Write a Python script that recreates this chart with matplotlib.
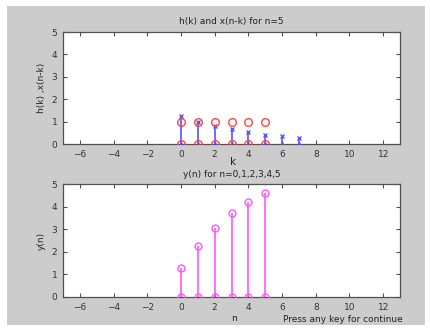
import matplotlib.pyplot as plt
from matplotlib.patches import Rectangle

# data
k_h = [0, 1, 2, 3, 4, 5, 6, 7]
h_vals = [1.25, 1.0, 0.82, 0.65, 0.55, 0.42, 0.35, 0.25]
k_x = [0, 1, 2, 3, 4, 5]
x_vals = [1, 1, 1, 1, 1, 1]
n_vals = [0, 1, 2, 3, 4, 5]
y_vals = [1.27, 2.27, 3.05, 3.72, 4.22, 4.62]
xticks = [-6, -4, -2, 0, 2, 4, 6, 8, 10, 12]
yticks = [0, 1, 2, 3, 4, 5]

W, H = 431, 329
fig = plt.figure(figsize=(W / 100, H / 100), dpi=100, facecolor='white')
fig.patches.append(Rectangle((7 / W, 1 - 325 / H), 418 / W, 319 / H,
                             transform=fig.transFigure, facecolor='#cccccc',
                             edgecolor='none', zorder=-10))

fs = 6.5
spine_col = '#505050'


def style(ax):
    ax.set_xlim(-7, 13)
    ax.set_ylim(0, 5)
    ax.set_xticks(xticks)
    ax.set_yticks(yticks)
    ax.tick_params(direction='in', length=3, width=0.8, color=spine_col,
                   labelsize=fs, labelcolor='#333333', top=True, right=True, pad=4)
    for s in ax.spines.values():
        s.set_color(spine_col)
        s.set_linewidth(0.9)
    ax.set_facecolor('white')


# top panel
ax1 = fig.add_axes([63 / W, 1 - 144 / H, 337 / W, 112 / H])
style(ax1)
ax1.vlines(k_h, 0, h_vals, color='#5555ff', lw=1.2, zorder=2)
ax1.plot(k_h, h_vals, 'x', color='#5555ff', ms=3.5, mew=1.0, zorder=3)
ax1.plot(k_h, [0] * len(k_h), '^', color='#5555ff', ms=3, mew=0.8, mfc='none', zorder=3)
ax1.plot(k_x, x_vals, 'o', color='#ff4444', ms=5.5, mew=1.0, mfc='none', zorder=4)
ax1.plot(k_x, [0] * len(k_x), 'o', color='#ff4444', ms=5.5, mew=1.0, mfc='none', zorder=4)
ax1.set_title('h(k) and x(n-k) for n=5', fontsize=fs, color='#222222', pad=6)
ax1.set_ylabel('h(k) ,x(n-k)', fontsize=fs, color='#222222', labelpad=4)
ax1.set_xlabel('k', fontsize=fs + 1, color='#222222')
ax1.xaxis.set_label_coords((233 - 63) / 337, -(157 - 144) / 112)

# bottom panel
ax2 = fig.add_axes([63 / W, 1 - 297 / H, 337 / W, 113 / H])
style(ax2)
ax2.vlines(n_vals, 0, y_vals, color='#ff55ff', lw=1.2, zorder=2)
ax2.plot(n_vals, y_vals, 'o', color='#ff55ff', ms=5, mew=1.0, mfc='none', zorder=3)
ax2.plot(n_vals, [0] * len(n_vals), 'o', color='#ff55ff', ms=5, mew=1.0, mfc='none', zorder=3)
ax2.set_title('y(n) for n=0,1,2,3,4,5', fontsize=fs, color='#222222', pad=5)
ax2.set_ylabel('y(n)', fontsize=fs, color='#222222', labelpad=4)
ax2.set_xlabel('n', fontsize=fs, color='#222222')
ax2.xaxis.set_label_coords((234 - 63) / 337, -(314 - 297) / 113)

fig.text(283 / W, 1 - 322 / H, 'Press any key for continue', fontsize=fs,
         color='#222222', va='baseline')

fig.savefig('out.png', dpi=100, facecolor='white')
